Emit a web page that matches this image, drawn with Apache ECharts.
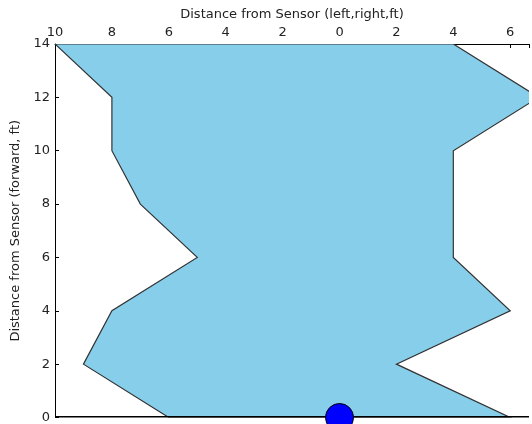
<!DOCTYPE html>
<html><head><meta charset="utf-8">
<script src="https://cdn.jsdelivr.net/npm/echarts@6/dist/echarts.min.js"></script>
<style>html,body{margin:0;padding:0;background:#fff;overflow:hidden}#c{width:532px;height:424px}</style>
</head><body><div id="c"></div>
<script>
// forward distance levels (ft)
const yLevels = [0, 2, 4, 6, 8, 10, 12, 14];
// left boundary (negative = left of sensor), right boundary
const leftX  = [-6, -9, -8, -5, -7, -8, -8, -10];
const rightX = [6, 2, 6, 4, 4, 4, 7, 4];
// sensor position
const sensor = [[0, 0]];

const X_MIN = -10, X_MAX = 6.66;
const poly = [];
for (let i = 0; i < yLevels.length; i++) poly.push([leftX[i], yLevels[i]]);
for (let i = yLevels.length - 1; i >= 0; i--) poly.push([rightX[i], yLevels[i]]);

const font = 'DejaVu Sans';
const chart = echarts.init(document.getElementById('c'), null, {renderer: 'canvas'});
chart.setOption({
  animation: false,
  grid: {left: 55, top: 44, right: 0, bottom: 3},
  xAxis: {
    type: 'value', position: 'top', min: X_MIN, max: X_MAX, interval: 2,
    name: 'Distance from Sensor (left,right,ft)', nameLocation: 'middle', nameGap: 22,
    nameTextStyle: {fontFamily: font, fontSize: 13, color: '#222'},
    axisLine: {show: true, onZero: false, lineStyle: {color: '#000', width: 1}},
    axisTick: {show: true, inside: true, length: 4, lineStyle: {color: '#000'}},
    axisLabel: {fontFamily: font, fontSize: 13, color: '#222', margin: 5,
      formatter: v => Number.isInteger(v) ? String(Math.abs(v)) : ''},
    splitLine: {show: false}
  },
  yAxis: {
    type: 'value', min: 0, max: 14, interval: 2,
    name: 'Distance from Sensor (forward, ft)', nameLocation: 'middle', nameGap: 28,
    nameTextStyle: {fontFamily: font, fontSize: 13, color: '#222'},
    axisLine: {show: true, onZero: false, lineStyle: {color: '#000', width: 1}},
    axisTick: {show: true, inside: true, length: 4, lineStyle: {color: '#000'}},
    axisLabel: {fontFamily: font, fontSize: 13, color: '#222', margin: 5},
    splitLine: {show: false}
  },
  series: [{
    type: 'custom', clip: true,
    data: poly,
    renderItem: function (params, api) {
      if (params.dataIndex !== 0) return null;
      const pts = poly.map(p => api.coord(p));
      const b0 = api.coord([X_MIN, 0]), b1 = api.coord([X_MAX, 0]);
      const yb = Math.round(b0[1]) - 1;
      return {type: 'group', children: [
        {type: 'polygon', shape: {points: pts},
          style: {fill: '#87ceeb', stroke: '#333333', lineWidth: 1.2}},
        {type: 'line', shape: {x1: b0[0], y1: yb, x2: b1[0], y2: yb},
          style: {stroke: '#000', lineWidth: 2}, z2: 5}
      ]};
    },
    z: 1
  }, {
    type: 'scatter', clip: true, data: sensor, symbolSize: 28,
    itemStyle: {color: '#0000ff', borderColor: '#000', borderWidth: 1, opacity: 1}, z: 3
  }]
});
</script></body></html>
